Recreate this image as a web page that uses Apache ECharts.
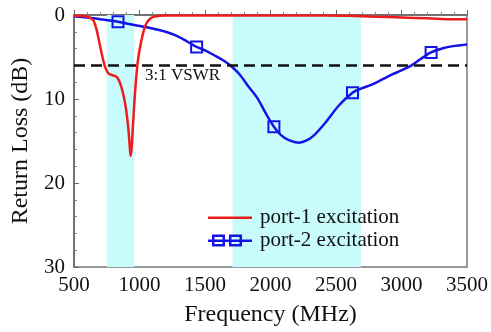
<!DOCTYPE html>
<html>
<head>
<meta charset="utf-8">
<script src="https://cdn.jsdelivr.net/npm/echarts@6/dist/echarts.min.js"></script>
<style>
  html, body { margin: 0; padding: 0; background: #fff; }
  #chart { width: 491px; height: 332px; }
</style>
</head>
<body>
<div id="chart"></div>
<script>
// port-1 excitation (red)
const freqPort1 = [500, 550, 600, 625, 650, 670, 690, 710, 725, 740, 760, 780, 800, 820, 840, 860, 880, 900, 915, 925, 932, 940, 950, 960, 972, 985, 1000, 1015, 1030, 1050, 1070, 1100, 1150, 1200, 1400, 1600, 1800, 2000, 2200, 2400, 2600, 2800, 3000, 3200, 3400, 3500]
const lossPort1 = [0.1, 0.1, 0.2, 0.35, 0.7, 1.6, 3.0, 4.5, 5.5, 6.3, 6.9, 7.1, 7.2, 7.3, 7.7, 8.5, 9.7, 11.5, 13.6, 15.5, 16.8, 15.8, 13.2, 10.6, 8.0, 5.8, 4.2, 3.0, 2.0, 1.1, 0.6, 0.25, 0.1, 0.05, 0.05, 0.05, 0.05, 0.05, 0.05, 0.05, 0.1, 0.2, 0.3, 0.4, 0.5, 0.5]

// port-2 excitation (blue)
const freqPort2 = [500, 600, 700, 836, 900, 1000, 1100, 1200, 1300, 1436, 1500, 1583, 1650, 1700, 1760, 1836, 1900, 1960, 2026, 2080, 2140, 2216, 2280, 2340, 2420, 2520, 2626, 2700, 2773, 2850, 2925, 3000, 3077, 3140, 3226, 3330, 3420, 3500]
const lossPort2 = [0.15, 0.3, 0.5, 0.8, 1.0, 1.3, 1.6, 2.0, 2.6, 3.8, 4.2, 4.9, 5.5, 6.1, 7.0, 8.6, 9.9, 11.6, 13.3, 14.3, 14.9, 15.2, 14.9, 14.2, 12.8, 10.8, 9.25, 8.7, 8.3, 7.7, 7.1, 6.6, 6.0, 5.3, 4.45, 3.9, 3.65, 3.5]
const markerFreqs = [836, 1436, 2026, 2626, 3226]

// shaded bands (MHz) and VSWR limit (dB)
const bands = [[750, 960], [1710, 2690]]
const vswrLevel = 6

const serif = '"Liberation Serif", "Times New Roman", serif'
const red = '#ee1d1d'
const blue = '#1414e6'

const chart = echarts.init(document.getElementById('chart'))

const data1 = freqPort1.map((f, i) => [f, lossPort1[i]])
const data2 = freqPort2.map((f, i) => {
  if (markerFreqs.indexOf(f) >= 0) {
    return {
      value: [f, lossPort2[i]],
      symbol: 'rect',
      symbolSize: 11,
      itemStyle: { color: 'rgba(0,0,0,0)', borderColor: blue, borderWidth: 2 }
    }
  }
  return { value: [f, lossPort2[i]], symbol: 'none' }
})

// legend icons: plain line, and line through two hollow squares
const port1Icon = 'path://M0,0H0.01V0.01H0Z M0,5H44V7.5H0Z M43.99,11.99H44V12H43.99Z'
const port2Icon = 'path://M0,5H44V7.5H0Z M4,0H17V12H4Z M6.5,2.5V9.5H14.5V2.5Z M21,0H34V12H21Z M23.5,2.5V9.5H31.5V2.5Z'

chart.setOption({
  animation: false,
  textStyle: { fontFamily: serif },
  grid: {
    left: 74,
    right: 22,
    top: 15,
    bottom: 63,
    show: true,
    borderColor: '#777',
    borderWidth: 1.5
  },
  legend: {
    orient: 'vertical',
    left: 208,
    top: 207,
    padding: 0,
    itemGap: 2,
    itemWidth: 44,
    itemHeight: 12,
    textStyle: { fontFamily: serif, fontSize: 21, color: '#111', padding: [0, 0, 0, 3] },
    data: [
      { name: 'port-1 excitation', icon: port1Icon },
      { name: 'port-2 excitation', icon: port2Icon }
    ]
  },
  xAxis: {
    type: 'value',
    min: 500,
    max: 3500,
    interval: 500,
    name: 'Frequency (MHz)',
    nameLocation: 'middle',
    nameGap: 36,
    nameTextStyle: { fontFamily: serif, fontSize: 24, fontWeight: 'normal', color: '#111' },
    axisLine: { lineStyle: { color: '#666', width: 1.5 } },
    axisTick: { inside: true, length: 5, lineStyle: { color: '#666' } },
    minorTick: { show: true, splitNumber: 5, length: 3, lineStyle: { color: '#888' } },
    axisLabel: { fontFamily: serif, fontSize: 21, color: '#111', margin: 8, formatter: v => String(v) },
    splitLine: { show: false }
  },
  yAxis: {
    type: 'value',
    inverse: true,
    min: 0,
    max: 30,
    interval: 10,
    name: 'Return Loss (dB)',
    nameLocation: 'middle',
    nameGap: 40,
    nameTextStyle: { fontFamily: serif, fontSize: 24, fontWeight: 'normal', color: '#111' },
    axisLine: { show: true, lineStyle: { color: '#666', width: 1.5 } },
    axisTick: { show: true, inside: true, length: 5, lineStyle: { color: '#666' } },
    minorTick: { show: true, splitNumber: 5, length: 3, lineStyle: { color: '#888' } },
    axisLabel: { fontFamily: serif, fontSize: 21, color: '#111', margin: 9, formatter: v => String(v) },
    splitLine: { show: false }
  },
  graphic: [{
    type: 'text',
    left: 145,
    top: 67,
    z: 10,
    style: { text: '3:1 VSWR', font: '17px "Liberation Serif"', fill: '#111' }
  }],
  series: [
    {
      // bands and VSWR line only
      type: 'line',
      data: [],
      z: 1,
      silent: true,
      markArea: {
        silent: true,
        itemStyle: { color: '#c8fbfb', opacity: 1 },
        data: bands.map(b => [{ xAxis: b[0] }, { xAxis: b[1] }])
      },
      markLine: {
        silent: true,
        symbol: 'none',
        label: { show: false },
        lineStyle: { color: '#111', type: [11, 6], width: 2.5, opacity: 1 },
        data: [{ yAxis: vswrLevel }]
      }
    },
    {
      name: 'port-1 excitation',
      type: 'line',
      z: 3,
      data: data1,
      smooth: 0.3,
      symbol: 'none',
      lineStyle: { color: red, width: 2.5 },
      itemStyle: { color: red }
    },
    {
      name: 'port-2 excitation',
      type: 'line',
      z: 2,
      data: data2,
      smooth: 0.3,
      symbol: 'none',
      showSymbol: true,
      showAllSymbol: true,
      lineStyle: { color: blue, width: 2.5 },
      itemStyle: { color: blue }
    }
  ]
})
</script>
</body>
</html>
